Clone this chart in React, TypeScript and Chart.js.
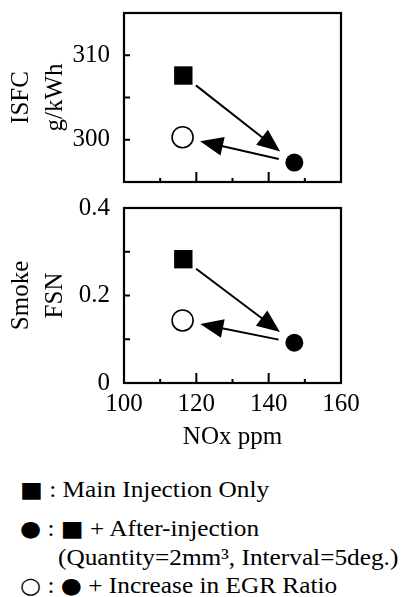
import React, { useEffect, useRef } from 'react';
import { Chart, registerables } from 'chart.js';

Chart.register(...registerables);

// ---- data ----
const NOX = [116.4, 147.1, 116.2]; // ppm: main only, + after-injection, + EGR
const ISFC = [307.6, 297.3, 300.3]; // g/kWh
const SMOKE = [0.283, 0.092, 0.143]; // FSN
const POINT_STYLES = ['rect', 'circle', 'circle'];
const POINT_FILLS = ['#000', '#000', '#fff'];
const POINT_RADII = [13, 9, 10.5];
const ARROWS = [[0, 1], [1, 2]];

const X_MIN = 100;
const X_MAX = 160;
const X_TICK_LABELS = [100, 120, 140, 160];
const X_INNER_TICKS = [110, 120, 130, 140, 150];
const ISFC_RANGE = [295, 315];
const ISFC_TICK_LABELS = [300, 310];
const ISFC_INNER_TICKS = [300, 305, 310];
const SMOKE_RANGE = [0, 0.4];
const SMOKE_TICK_LABELS = [0, 0.2, 0.4];
const SMOKE_INNER_TICKS = [0.1, 0.2, 0.3];

const LEGEND_LINES = [
  [['g', '\u25A0'], ['t', ' : Main Injection Only']],
  [['g', '\u25CF'], ['t', ' : '], ['g', '\u25A0'], ['t', ' + After-injection']],
  [['t', '(Quantity=2mm\u00B3, Interval=5deg.)']],
  [['g', '\u25CB'], ['t', ' : '], ['g', '\u25CF'], ['t', ' + Increase in EGR Ratio']],
];

const FONT = "'Liberation Serif', 'Times New Roman', serif";
const GLYPH_FONT = "'DejaVu Sans', sans-serif";

Chart.defaults.font.family = FONT;
Chart.defaults.color = '#000';

const near = (list: number[], v: number) => list.some((t) => Math.abs(t - v) < 1e-9);

const framePlugin = {
  id: 'frame',
  afterDatasetsDraw(chart: any, _args: any, opts: any) {
    const { ctx, chartArea: a } = chart;
    const xs = chart.scales.x;
    const ys = chart.scales.y;
    ctx.save();
    ctx.strokeStyle = '#000';
    ctx.fillStyle = '#000';
    ctx.lineWidth = 2.2;
    ctx.strokeRect(a.left, a.top, a.right - a.left, a.bottom - a.top);
    ctx.lineWidth = 2;
    ctx.beginPath();
    for (const v of X_INNER_TICKS) {
      const px = xs.getPixelForValue(v);
      const len = near(X_TICK_LABELS, v) ? 10 : 4;
      ctx.moveTo(px, a.bottom);
      ctx.lineTo(px, a.bottom - len);
    }
    for (const v of opts.yTicks) {
      const py = ys.getPixelForValue(v);
      ctx.moveTo(a.left, py);
      ctx.lineTo(a.left + 6, py);
    }
    ctx.stroke();

    // arrows
    const vals: number[] = opts.values;
    for (const [i, j] of ARROWS) {
      const x0 = xs.getPixelForValue(NOX[i]);
      const y0 = ys.getPixelForValue(vals[i]);
      const x1 = xs.getPixelForValue(NOX[j]);
      const y1 = ys.getPixelForValue(vals[j]);
      const dx = x1 - x0;
      const dy = y1 - y0;
      const L = Math.hypot(dx, dy);
      const ux = dx / L;
      const uy = dy / L;
      const nx = -uy;
      const ny = ux;
      const gapS = 16;
      const gapE = 18;
      const headL = 23;
      const headW = 19;
      const sx = x0 + ux * gapS;
      const sy = y0 + uy * gapS;
      const tx = x1 - ux * gapE;
      const ty = y1 - uy * gapE;
      const bx = tx - ux * headL;
      const by = ty - uy * headL;
      ctx.lineWidth = 2;
      ctx.beginPath();
      ctx.moveTo(sx, sy);
      ctx.lineTo(bx + ux * 2, by + uy * 2);
      ctx.stroke();
      ctx.beginPath();
      ctx.moveTo(tx, ty);
      ctx.lineTo(bx + nx * headW / 2, by + ny * headW / 2);
      ctx.lineTo(bx - nx * headW / 2, by - ny * headW / 2);
      ctx.closePath();
      ctx.fill();
    }
    ctx.restore();
  },
};

function makeConfig(kind: 'isfc' | 'smoke'): any {
  const isTop = kind === 'isfc';
  const values = isTop ? ISFC : SMOKE;
  const range = isTop ? ISFC_RANGE : SMOKE_RANGE;
  const labels = isTop ? ISFC_TICK_LABELS : SMOKE_TICK_LABELS;
  const inner = isTop ? ISFC_INNER_TICKS : SMOKE_INNER_TICKS;
  return {
    type: 'scatter',
    data: {
      datasets: [
        {
          data: NOX.map((x, i) => ({ x, y: values[i] })),
          pointStyle: POINT_STYLES,
          pointRadius: POINT_RADII,
          pointHoverRadius: POINT_RADII,
          pointBackgroundColor: POINT_FILLS,
          pointBorderColor: '#000',
          pointBorderWidth: [0, 0, 1.6],
          showLine: false,
        },
      ],
    },
    options: {
      animation: false,
      responsive: true,
      maintainAspectRatio: false,
      events: [],
      layout: { padding: { top: isTop ? 10 : 12, bottom: isTop ? 12 : 0, left: 0, right: 63 } },
      plugins: {
        legend: { display: false },
        tooltip: { enabled: false },
        frame: { values, yTicks: inner },
      },
      scales: {
        x: {
          type: 'linear',
          min: X_MIN,
          max: X_MAX,
          display: !isTop,
          afterFit: (s: any) => {
            s.height = isTop ? 0 : 77;
            s.paddingLeft = 0;
            s.paddingRight = 0;
            s.paddingTop = 0;
            s.paddingBottom = 0;
          },
          grid: { display: false, drawTicks: false },
          border: { display: false },
          ticks: {
            stepSize: 10,
            autoSkip: false,
            maxRotation: 0,
            padding: 6,
            color: '#000',
            font: { size: 25 },
            callback: (v: number) => (near(X_TICK_LABELS, v) ? String(v) : ''),
          },
          title: {
            display: true,
            text: 'NOx ppm',
            color: '#000',
            font: { size: 25 },
            padding: { top: 0, bottom: 8 },
          },
        },
        y: {
          type: 'linear',
          min: range[0],
          max: range[1],
          afterFit: (s: any) => {
            s.width = 124;
            s.paddingTop = 0;
            s.paddingBottom = 0;
            s.paddingLeft = 0;
            s.paddingRight = 0;
          },
          grid: { display: false, drawTicks: false },
          border: { display: false },
          ticks: {
            stepSize: isTop ? 5 : 0.1,
            autoSkip: false,
            padding: 14,
            color: '#000',
            font: { size: 25 },
            callback: (v: number) => (near(labels, v) ? String(Math.round(v * 10) / 10) : ''),
          },
          title: {
            display: true,
            text: isTop ? ['ISFC', 'g/kWh'] : ['Smoke', 'FSN'],
            color: '#000',
            font: { size: 25, lineHeight: 1.35 },
            padding: { top: 5, bottom: 0 },
          },
        },
      },
    },
    plugins: [framePlugin],
  };
}

function Panel({ kind, top, height }: { kind: 'isfc' | 'smoke'; top: number; height: number }) {
  const ref = useRef<HTMLCanvasElement | null>(null);
  useEffect(() => {
    if (!ref.current) return;
    const chart = new Chart(ref.current, makeConfig(kind));
    return () => chart.destroy();
  }, [kind]);
  return (
    <div style={{ position: 'absolute', left: 0, top, width: 404, height }}>
      <canvas ref={ref} />
    </div>
  );
}

const LEGEND_LEFT = [20, 20, 58, 20];
const LEGEND_BASELINE = [497, 536, 565, 593];
const LEGEND_FONT = 23;

export default function App() {
  return (
    <div
      style={{
        position: 'absolute',
        left: 0,
        top: 0,
        width: 404,
        height: 597,
        background: '#fff',
        overflow: 'hidden',
      }}
    >
      <Panel kind="isfc" top={0} height={195} />
      <Panel kind="smoke" top={195} height={265} />
      {LEGEND_LINES.map((parts, i) => (
        <div
          key={i}
          style={{
            position: 'absolute',
            left: LEGEND_LEFT[i],
            top: LEGEND_BASELINE[i] - LEGEND_FONT * 0.8375,
            fontFamily: FONT,
            fontSize: LEGEND_FONT,
            lineHeight: 1,
            height: LEGEND_FONT,
            whiteSpace: 'pre',
            color: '#000',
            transform: 'scaleX(1.1)',
            transformOrigin: 'left top',
          }}
        >
          {parts.map(([k, t], j) =>
            k === 'g' ? (
              <span key={j} style={{ fontFamily: GLYPH_FONT, fontSize: 22, lineHeight: 0 }}>
                {t}
              </span>
            ) : (
              <span key={j}>{t}</span>
            )
          )}
        </div>
      ))}
    </div>
  );
}
